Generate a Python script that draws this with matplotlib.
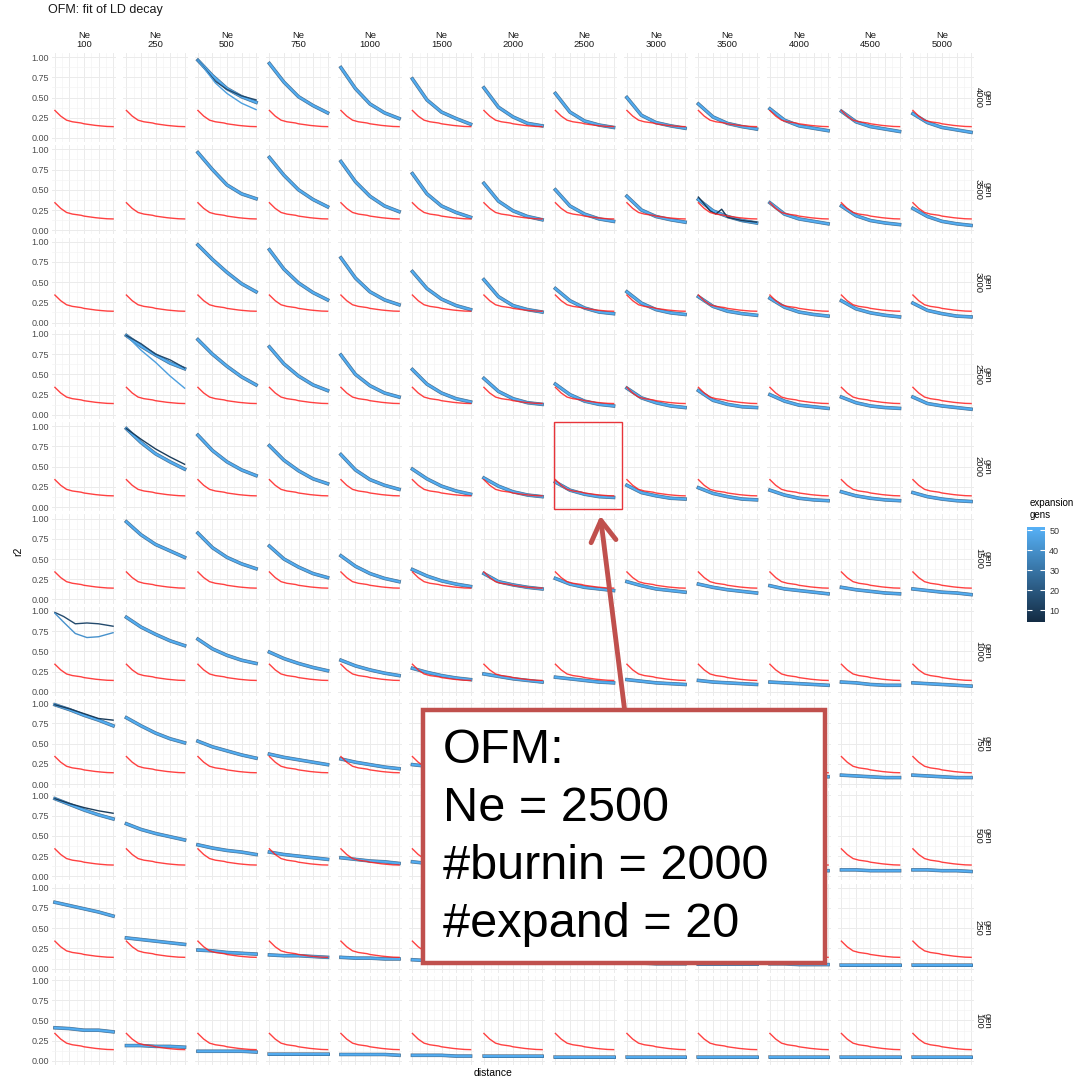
import matplotlib
matplotlib.use("Agg")
import matplotlib.pyplot as plt
from matplotlib.patches import Rectangle, FancyArrowPatch
from matplotlib.colors import LinearSegmentedColormap, Normalize
from matplotlib.cm import ScalarMappable

plt.rcParams['font.family'] = ['Liberation Sans', 'DejaVu Sans']

W, H = 1084, 1081

ne_values = [100, 250, 500, 750, 1000, 1500, 2000, 2500, 3000, 3500, 4000, 4500, 5000]
gen_values = [4000, 3500, 3000, 2500, 2000, 1500, 1000, 750, 500, 250, 100]

# red reference curve (same in every panel)
ref_distance = [0.0, 0.1, 0.2, 0.3, 0.4, 0.45, 0.5, 0.6, 0.7, 0.8, 0.9, 1.0]
ref_r2 = [0.34, 0.27, 0.22, 0.20, 0.19, 0.185, 0.175, 0.165, 0.155, 0.148, 0.142, 0.14]

# simulated r2 read at 5 distances, one entry per Ne (None = no run)
sim_distance = [0.0, 0.25, 0.5, 0.75, 1.0]

r2_gen4000 = [None, None,
              [0.96, 0.77, 0.61, 0.51, 0.44], [0.92, 0.69, 0.51, 0.40, 0.31],
              [0.87, 0.61, 0.42, 0.31, 0.24], [0.73, 0.47, 0.32, 0.24, 0.17],
              [0.62, 0.38, 0.26, 0.18, 0.15], [0.55, 0.32, 0.21, 0.16, 0.13],
              [0.50, 0.28, 0.19, 0.15, 0.12], [0.42, 0.26, 0.18, 0.14, 0.11],
              [0.36, 0.22, 0.15, 0.12, 0.09], [0.33, 0.20, 0.14, 0.11, 0.08],
              [0.30, 0.19, 0.13, 0.10, 0.07]]
r2_gen3500 = [None, None,
              [0.96, 0.75, 0.56, 0.45, 0.39], [0.90, 0.68, 0.50, 0.38, 0.29],
              [0.85, 0.60, 0.42, 0.30, 0.23], [0.70, 0.45, 0.30, 0.22, 0.16],
              [0.58, 0.36, 0.24, 0.17, 0.13], [0.50, 0.30, 0.20, 0.14, 0.11],
              [0.42, 0.25, 0.17, 0.13, 0.10], [0.38, 0.24, 0.17, 0.12, 0.09],
              [0.34, 0.20, 0.14, 0.11, 0.08], [0.30, 0.18, 0.12, 0.09, 0.07],
              [0.27, 0.17, 0.11, 0.08, 0.06]]
r2_gen3000 = [None, None,
              [0.96, 0.78, 0.62, 0.48, 0.38], [0.90, 0.66, 0.49, 0.37, 0.28],
              [0.80, 0.55, 0.38, 0.28, 0.22], [0.63, 0.42, 0.29, 0.21, 0.16],
              [0.53, 0.32, 0.21, 0.16, 0.13], [0.42, 0.27, 0.18, 0.13, 0.11],
              [0.38, 0.24, 0.16, 0.12, 0.10], [0.32, 0.20, 0.14, 0.11, 0.09],
              [0.30, 0.19, 0.13, 0.10, 0.08], [0.27, 0.17, 0.12, 0.09, 0.07],
              [0.24, 0.15, 0.11, 0.08, 0.07]]
r2_gen2500 = [None,
              [0.98, 0.85, 0.74, 0.64, 0.57],
              [0.93, 0.75, 0.60, 0.47, 0.37], [0.84, 0.63, 0.48, 0.37, 0.30],
              [0.74, 0.50, 0.36, 0.27, 0.22], [0.56, 0.38, 0.27, 0.20, 0.16],
              [0.45, 0.29, 0.20, 0.15, 0.13], [0.38, 0.25, 0.17, 0.13, 0.11],
              [0.33, 0.21, 0.15, 0.11, 0.09], [0.30, 0.18, 0.13, 0.10, 0.09],
              [0.25, 0.17, 0.12, 0.10, 0.08], [0.22, 0.15, 0.11, 0.09, 0.08],
              [0.22, 0.14, 0.11, 0.09, 0.07]]
r2_gen2000 = [None,
              [0.97, 0.80, 0.66, 0.56, 0.47],
              [0.89, 0.70, 0.56, 0.46, 0.39], [0.76, 0.58, 0.45, 0.35, 0.29],
              [0.65, 0.46, 0.34, 0.27, 0.22], [0.47, 0.35, 0.26, 0.20, 0.16],
              [0.36, 0.26, 0.19, 0.15, 0.13], [0.31, 0.21, 0.16, 0.13, 0.12],
              [0.27, 0.18, 0.14, 0.11, 0.10], [0.24, 0.17, 0.13, 0.10, 0.09],
              [0.21, 0.15, 0.11, 0.09, 0.08], [0.19, 0.14, 0.11, 0.09, 0.08],
              [0.18, 0.13, 0.10, 0.08, 0.07]]
r2_gen1500 = [None,
              [0.96, 0.80, 0.68, 0.60, 0.52],
              [0.82, 0.64, 0.52, 0.44, 0.38], [0.66, 0.50, 0.40, 0.32, 0.27],
              [0.54, 0.41, 0.32, 0.26, 0.22], [0.37, 0.29, 0.23, 0.19, 0.16],
              [0.32, 0.22, 0.18, 0.15, 0.13], [0.26, 0.19, 0.15, 0.13, 0.11],
              [0.22, 0.17, 0.13, 0.11, 0.09], [0.19, 0.15, 0.12, 0.10, 0.08],
              [0.17, 0.13, 0.11, 0.09, 0.07], [0.15, 0.12, 0.10, 0.08, 0.07],
              [0.13, 0.11, 0.09, 0.08, 0.06]]
r2_gen1000 = [None,
              [0.92, 0.80, 0.71, 0.63, 0.57],
              [0.65, 0.53, 0.45, 0.39, 0.35], [0.49, 0.41, 0.35, 0.30, 0.26],
              [0.39, 0.32, 0.27, 0.23, 0.20], [0.29, 0.24, 0.20, 0.17, 0.15],
              [0.22, 0.19, 0.16, 0.14, 0.12], [0.18, 0.16, 0.14, 0.12, 0.11],
              [0.15, 0.13, 0.11, 0.10, 0.09], [0.14, 0.12, 0.11, 0.10, 0.09],
              [0.12, 0.11, 0.10, 0.09, 0.08], [0.12, 0.11, 0.09, 0.08, 0.08],
              [0.11, 0.10, 0.09, 0.08, 0.07]]
r2_gen750 = [[0.98, 0.92, 0.85, 0.79, 0.72],
             [0.82, 0.72, 0.63, 0.56, 0.51],
             [0.53, 0.46, 0.41, 0.36, 0.32], [0.37, 0.33, 0.30, 0.27, 0.24],
             [0.31, 0.27, 0.24, 0.21, 0.19], [0.24, 0.22, 0.19, 0.17, 0.15],
             [0.19, 0.17, 0.15, 0.14, 0.12], [0.15, 0.14, 0.13, 0.12, 0.11],
             [0.13, 0.12, 0.11, 0.10, 0.09], [0.12, 0.11, 0.10, 0.09, 0.09],
             [0.11, 0.10, 0.10, 0.09, 0.09], [0.11, 0.10, 0.09, 0.08, 0.08],
             [0.11, 0.10, 0.09, 0.08, 0.08]]
r2_gen500 = [[0.96, 0.89, 0.82, 0.76, 0.71],
             [0.65, 0.58, 0.53, 0.49, 0.45],
             [0.39, 0.35, 0.32, 0.30, 0.27], [0.30, 0.27, 0.25, 0.23, 0.21],
             [0.23, 0.21, 0.19, 0.18, 0.16], [0.18, 0.16, 0.15, 0.14, 0.13],
             [0.15, 0.14, 0.13, 0.12, 0.11], [0.12, 0.11, 0.10, 0.10, 0.09],
             [0.10, 0.10, 0.09, 0.09, 0.08], [0.09, 0.09, 0.08, 0.08, 0.07],
             [0.08, 0.08, 0.07, 0.07, 0.07], [0.08, 0.08, 0.07, 0.07, 0.07],
             [0.08, 0.08, 0.07, 0.07, 0.06]]
r2_gen250 = [[0.82, 0.78, 0.74, 0.70, 0.65],
             [0.38, 0.36, 0.34, 0.32, 0.30],
             [0.23, 0.22, 0.20, 0.19, 0.18], [0.17, 0.16, 0.16, 0.15, 0.14],
             [0.14, 0.13, 0.13, 0.12, 0.12], [0.11, 0.10, 0.10, 0.10, 0.09],
             [0.09, 0.09, 0.09, 0.08, 0.08], [0.08, 0.08, 0.07, 0.07, 0.07],
             [0.07, 0.07, 0.06, 0.06, 0.06], [0.06, 0.06, 0.06, 0.06, 0.06],
             [0.06, 0.06, 0.05, 0.05, 0.05], [0.05, 0.05, 0.05, 0.05, 0.05],
             [0.05, 0.05, 0.05, 0.05, 0.05]]
r2_gen100 = [[0.41, 0.40, 0.38, 0.38, 0.36],
             [0.19, 0.19, 0.18, 0.18, 0.17],
             [0.12, 0.12, 0.12, 0.12, 0.11], [0.09, 0.09, 0.09, 0.09, 0.09],
             [0.08, 0.08, 0.08, 0.08, 0.07], [0.07, 0.07, 0.07, 0.06, 0.06],
             [0.06, 0.06, 0.06, 0.06, 0.06], [0.05, 0.05, 0.05, 0.05, 0.05],
             [0.05, 0.05, 0.05, 0.05, 0.05], [0.05, 0.05, 0.05, 0.05, 0.05],
             [0.05, 0.05, 0.05, 0.05, 0.05], [0.05, 0.05, 0.05, 0.05, 0.05],
             [0.05, 0.05, 0.05, 0.05, 0.05]]

r2_rows = [r2_gen4000, r2_gen3500, r2_gen3000, r2_gen2500, r2_gen2000, r2_gen1500,
           r2_gen1000, r2_gen750, r2_gen500, r2_gen250, r2_gen100]

# runs that clearly split from the bundle: (gen, Ne, expansion gens, distance, r2)
odd_gen = [4000, 4000, 3500, 2500, 2500, 2000, 1000, 1000, 750, 500]
odd_ne = [500, 500, 3500, 250, 250, 250, 100, 100, 100, 100]
odd_exp = [15, 45, 10, 45, 15, 10, 15, 40, 10, 10]
odd_dist = [[0.0, 0.3, 0.5, 0.75, 1.0], [0.0, 0.3, 0.5, 0.75, 1.0],
            [0.0, 0.2, 0.3, 0.4, 0.5, 0.75, 1.0], [0.0, 0.25, 0.5, 0.75, 1.0],
            [0.0, 0.25, 0.5, 0.75, 1.0], [0.0, 0.25, 0.5, 0.75, 1.0],
            [0.0, 0.15, 0.35, 0.55, 0.75, 1.0], [0.0, 0.15, 0.35, 0.55, 0.75, 1.0],
            [0.0, 0.25, 0.5, 0.75, 1.0], [0.0, 0.25, 0.5, 0.75, 1.0]]
odd_r2 = [[0.96, 0.70, 0.60, 0.52, 0.47], [0.96, 0.68, 0.55, 0.43, 0.35],
          [0.41, 0.24, 0.20, 0.26, 0.16, 0.12, 0.10], [0.98, 0.80, 0.65, 0.48, 0.33],
          [0.98, 0.88, 0.75, 0.68, 0.58], [0.97, 0.84, 0.72, 0.62, 0.53],
          [0.98, 0.93, 0.84, 0.85, 0.84, 0.81], [0.97, 0.86, 0.72, 0.67, 0.68, 0.73],
          [0.98, 0.93, 0.87, 0.81, 0.79], [0.96, 0.90, 0.85, 0.81, 0.78]]

exp_ticks = [10, 20, 30, 40, 50]

cmap = LinearSegmentedColormap.from_list('gg', ['#132B43', '#56B1F7'])
norm = Normalize(vmin=4, vmax=51.5)

fig, axes = plt.subplots(len(gen_values), len(ne_values), figsize=(W / 100, H / 100), dpi=100)
fig.subplots_adjust(left=52 / W, right=974 / W, top=1 - 53 / H, bottom=1 - 1065 / H,
                    wspace=0.117, hspace=0.037)

for i, gen in enumerate(gen_values):
    for j, ne in enumerate(ne_values):
        ax = axes[i, j]
        ax.set_xlim(-0.05, 1.05)
        ax.set_ylim(-0.05, 1.05)
        ax.set_xticks([0, 0.25, 0.5, 0.75, 1.0])
        ax.set_xticks([0.125, 0.375, 0.625, 0.875], minor=True)
        ax.set_yticks([0, 0.25, 0.5, 0.75, 1.0])
        ax.set_yticks([0.125, 0.375, 0.625, 0.875], minor=True)
        ax.grid(True, which='major', color='#EBEBEB', lw=0.7)
        ax.grid(True, which='minor', color='#F3F3F3', lw=0.45)
        ax.set_axisbelow(True)
        for s in ax.spines.values():
            s.set_visible(False)
        ax.tick_params(which='both', length=0, labelbottom=False, pad=2)
        if j == 0:
            ax.set_yticklabels(['0.00', '0.25', '0.50', '0.75', '1.00'],
                               fontsize=6.5, color='#4D4D4D')
        else:
            ax.tick_params(labelleft=False)

        ax.plot(ref_distance, ref_r2, color='#FF2020', lw=1.0, alpha=0.85, zorder=4)

        vals = r2_rows[i][j]
        if vals is not None:
            ax.plot(sim_distance, vals, color=cmap(norm(10)), lw=2.6, alpha=0.6, zorder=2)
            ax.plot(sim_distance, vals, color=cmap(norm(34)), lw=2.1, zorder=2)
            ax.plot(sim_distance, vals, color=cmap(norm(50)), lw=1.4, zorder=3)

        if i == 0:
            ax.set_title('Ne\n%d' % ne, fontsize=6.8, color='#1A1A1A', pad=4, linespacing=1.0)
        if j == len(ne_values) - 1:
            ax.text(1.14, 0.5, 'gen\n%d' % gen, transform=ax.transAxes, rotation=-90,
                    ha='center', va='center', fontsize=6.8, color='#1A1A1A', linespacing=1.0)

for g, n, e, d, r in zip(odd_gen, odd_ne, odd_exp, odd_dist, odd_r2):
    ax = axes[gen_values.index(g), ne_values.index(n)]
    ax.plot(d, r, color=cmap(norm(e)), lw=1.0, zorder=3)

fig.text(48 / W, 1 - 10 / H, 'OFM: fit of LD decay', fontsize=9, ha='left', va='center',
         color='#1A1A1A')
fig.text(18 / W, 1 - 551 / H, 'r2', fontsize=7.5, rotation=90, ha='center', va='center')
fig.text(493 / W, 1 - 1073 / H, 'distance', fontsize=7.5, ha='center', va='center')

# colour legend
cax = fig.add_axes([1027 / W, 1 - 622 / H, 18 / W, 95 / H])
cb = fig.colorbar(ScalarMappable(norm=norm, cmap=cmap), cax=cax, ticks=exp_ticks)
cb.outline.set_visible(False)
cax.tick_params(axis='y', direction='in', length=3.5, width=0.8, color='white',
                left=True, right=True, labelsize=6.5, labelcolor='#333333', pad=3)
fig.text(1030 / W, 1 - 509 / H, 'expansion\ngens', fontsize=7, ha='left', va='center',
         linespacing=1.2)

# annotation
hl = axes[gen_values.index(2000), ne_values.index(2500)]
hl.add_patch(Rectangle((0.03, 0.03), 1.06, 0.97, transform=hl.transAxes, fill=False,
                       edgecolor='#E8343A', lw=1.0, clip_on=False, zorder=6))

arrow = FancyArrowPatch((625 / W, 1 - 713 / H), (600 / W, 1 - 513 / H),
                        transform=fig.transFigure, arrowstyle='->,head_length=10,head_width=6',
                        color='#C0504D', lw=3.5, mutation_scale=1.5, zorder=10)
fig.patches.append(arrow)

box = Rectangle((423 / W, 1 - 963 / H), 402 / W, 253 / H, transform=fig.transFigure,
                facecolor='white', edgecolor='#C0504D', lw=3.2, zorder=11)
fig.patches.append(box)
fig.text(443 / W, 1 - 728 / H, 'OFM:\nNe = 2500\n#burnin = 2000\n#expand = 20',
         family=['Liberation Sans', 'DejaVu Sans'], fontsize=35, ha='left', va='top',
         linespacing=1.37, zorder=12)

fig.savefig('out.png', dpi=100)
